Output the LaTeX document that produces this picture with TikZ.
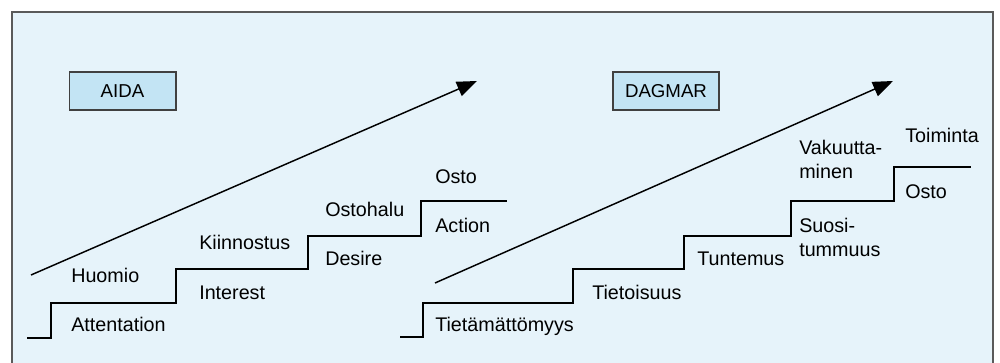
\documentclass[tikz,border=0pt]{standalone}
\usepackage{fontspec}
\setmainfont{Liberation Sans}
\usetikzlibrary{arrows.meta}
\definecolor{bgblue}{HTML}{E6F3FA}
\definecolor{boxblue}{HTML}{C3E4F4}
\definecolor{framegray}{HTML}{5A5A5A}
\tikzset{
  lbl/.style={anchor=base west, inner sep=0pt, font=\fontsize{14.8}{18.5}\selectfont, align=left, text=black},
  titlebox/.style={draw=black!75, line width=1pt, fill=boxblue, minimum width=80pt, minimum height=28.5pt, inner sep=0pt, font=\fontsize{14}{16}\selectfont},
  stair/.style={line width=2.2pt, line join=miter},
  bigarrow/.style={line width=1.1pt, -{Triangle[length=15pt,width=11.5pt]}}
}
\begin{document}
\begin{tikzpicture}[x=0.75pt,y=-0.75pt]
\useasboundingbox (0,0) rectangle (1000,363);
\clip (0,0) rectangle (1000,363);
\fill[white] (0,0) rectangle (1000,363);
\draw[framegray, line width=1.3pt, fill=bgblue] (12,12) rectangle (993,380);

% title boxes
\node[titlebox] (aida) at (122.5,91) {AIDA};
\node[titlebox, minimum width=79.5pt] (dagmar) at (666,91) {DAGMAR};

% AIDA stairs
\draw[stair] (27,338) -| (51,303) -| (176,269) -| (308,236) -| (421,201) -- (507,201);
% DAGMAR stairs
\draw[stair] (400,337) -| (423,303) -| (573,269) -| (684,236) -| (791,201) -| (894,167) -- (971,167);

% arrows
\coordinate (a1) at (31,275);
\coordinate (a2) at (477,81);
\draw[bigarrow] (a1) -- (a2);
\coordinate (d1) at (435,283);
\coordinate (d2) at (893,81);
\draw[bigarrow] (d1) -- (d2);

% AIDA labels
\node[lbl] (attn) at (71,332) {Attentation};
\node[lbl] (huom) at (71,283) {Huomio};
\node[lbl] (intr) at (199,300) {Interest};
\node[lbl] (kiin) at (199,250) {Kiinnostus};
\node[lbl] (desi) at (325,266) {Desire};
\node[lbl] (osth) at (325,217) {Ostohalu};
\node[lbl] (acti) at (435,233) {Action};
\node[lbl] (osto) at (435,184) {Osto};

% DAGMAR labels
\node[lbl] (tiet) at (435,332) {Tietämättömyys};
\node[lbl] (tois) at (592,300) {Tietoisuus};
\node[lbl] (tunt) at (697,266) {Tuntemus};
\node[lbl] (suos) at (799,257) {Suosi-\\tummuus};
\node[lbl] (vaku) at (799,179) {Vakuutta-\\minen};
\node[lbl] (toim) at (905,143) {Toiminta};
\node[lbl] (ost2) at (905,199) {Osto};
\end{tikzpicture}
\end{document}
